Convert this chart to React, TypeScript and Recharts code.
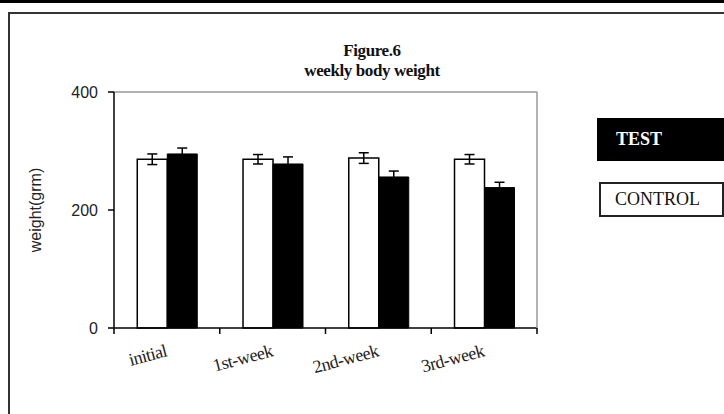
import { BarChart, Bar, XAxis, YAxis, ErrorBar, ReferenceLine, Label } from 'recharts';

// weekly body weight, mean ± error per group
const weeks = ['initial', '1st-week', '2nd-week', '3rd-week'];
const control = [286, 286, 288, 286];
const controlErr = [9, 8, 9, 8];
const test = [295, 278, 256, 238];
const testErr = [10, 12, 10, 9];
const yTicks = [0, 200, 400];

const data = weeks.map((week, i) => ({
  week,
  control: control[i],
  controlErr: controlErr[i],
  test: test[i],
  testErr: testErr[i],
}));

const SERIF = '"Liberation Serif", "Times New Roman", serif';
const SANS = '"Liberation Sans", Arial, sans-serif';

// slanted category label plus tick marks on the band edges
const WeekTick = (props: any) => {
  const { x, y, payload, index } = props;
  const half = payload.offset ?? 0;
  const ay = y + 22;
  const tx = x + 1;
  return (
    <g>
      <line x1={x - half} y1={y - 6} x2={x - half} y2={y} stroke="#000" strokeWidth={1.5} />
      {index === weeks.length - 1 && (
        <line x1={x + half} y1={y - 6} x2={x + half} y2={y} stroke="#000" strokeWidth={1.5} />
      )}
      <text
        x={tx}
        y={ay}
        transform={`rotate(-15 ${tx} ${ay})`}
        textAnchor="end"
        fontFamily={SERIF}
        fontSize={18}
        letterSpacing={-0.5}
        fill="#222"
      >
        {payload.value}
      </text>
    </g>
  );
};

const WeightLabel = (props: any) => {
  const { viewBox } = props;
  const cx = viewBox.x + 35;
  const cy = viewBox.y + viewBox.height / 2;
  return (
    <text
      x={cx}
      y={cy}
      transform={`rotate(-90 ${cx} ${cy})`}
      textAnchor="middle"
      dominantBaseline="central"
      fontFamily={SANS}
      fontSize={16}
      fill="#222"
    >
      weight(grm)
    </text>
  );
};

export default function App() {
  return (
    <div
      style={{
        position: 'absolute',
        left: 0,
        top: 0,
        width: 724,
        height: 414,
        background: '#fff',
        overflow: 'hidden',
      }}
    >
      <div style={{ position: 'absolute', left: 0, top: 0, width: 724, height: 3, background: '#000' }} />
      <div
        style={{
          position: 'absolute',
          left: 8,
          top: 12,
          width: 740,
          height: 420,
          border: '2px solid #333',
          boxSizing: 'border-box',
        }}
      />

      <div style={{ position: 'absolute', left: 0, top: 0 }}>
        <BarChart
          width={724}
          height={414}
          data={data}
          margin={{ top: 92, right: 186, bottom: 46, left: 0 }}
          barCategoryGap="22%"
          barGap={0}
        >
          <XAxis
            dataKey="week"
            height={40}
            axisLine={{ stroke: '#000', strokeWidth: 1.5 }}
            tickLine={false}
            tickSize={6}
            tickMargin={0}
            interval={0}
            tick={<WeekTick />}
          />
          <YAxis
            width={114}
            domain={[0, 400]}
            ticks={yTicks}
            axisLine={{ stroke: '#000', strokeWidth: 1.5 }}
            tickLine={{ stroke: '#000', strokeWidth: 1.5 }}
            tickSize={6}
            tickMargin={10}
            tick={{ fontFamily: SANS, fontSize: 16, fill: '#222' }}
          >
            <Label content={<WeightLabel />} />
          </YAxis>
          <YAxis
            yAxisId="frame"
            orientation="right"
            width={1}
            domain={[0, 400]}
            tick={false}
            tickLine={false}
            axisLine={{ stroke: '#999', strokeWidth: 1.5 }}
          />
          <ReferenceLine y={400} stroke="#999" strokeWidth={1.5} />
          <Bar dataKey="control" fill="#fff" stroke="#000" strokeWidth={1.5} isAnimationActive={false}>
            <ErrorBar dataKey="controlErr" width={5} stroke="#000" strokeWidth={1.5} direction="y" />
          </Bar>
          <Bar dataKey="test" fill="#000" stroke="#000" strokeWidth={1} isAnimationActive={false}>
            <ErrorBar dataKey="testErr" width={5} stroke="#000" strokeWidth={1.5} direction="y" />
          </Bar>
        </BarChart>
      </div>

      <div
        style={{
          position: 'absolute',
          left: 272,
          top: 41,
          width: 200,
          textAlign: 'center',
          fontFamily: SERIF,
          fontWeight: 'bold',
          fontSize: 17,
          lineHeight: '20px',
          letterSpacing: -0.4,
          color: '#111',
        }}
      >
        <div>Figure.6</div>
        <div>weekly body weight</div>
      </div>

      <div
        style={{
          position: 'absolute',
          left: 597,
          top: 118,
          width: 140,
          height: 43,
          background: '#000',
          color: '#fff',
          fontFamily: SERIF,
          fontWeight: 'bold',
          fontSize: 18,
          lineHeight: '43px',
          paddingLeft: 19,
          boxSizing: 'border-box',
        }}
      >
        TEST
      </div>
      <div
        style={{
          position: 'absolute',
          left: 599,
          top: 182,
          width: 125,
          height: 35,
          background: '#fff',
          border: '2px solid #222',
          color: '#111',
          fontFamily: SERIF,
          fontSize: 18,
          lineHeight: '31px',
          paddingLeft: 14,
          boxSizing: 'border-box',
        }}
      >
        CONTROL
      </div>
    </div>
  );
}
